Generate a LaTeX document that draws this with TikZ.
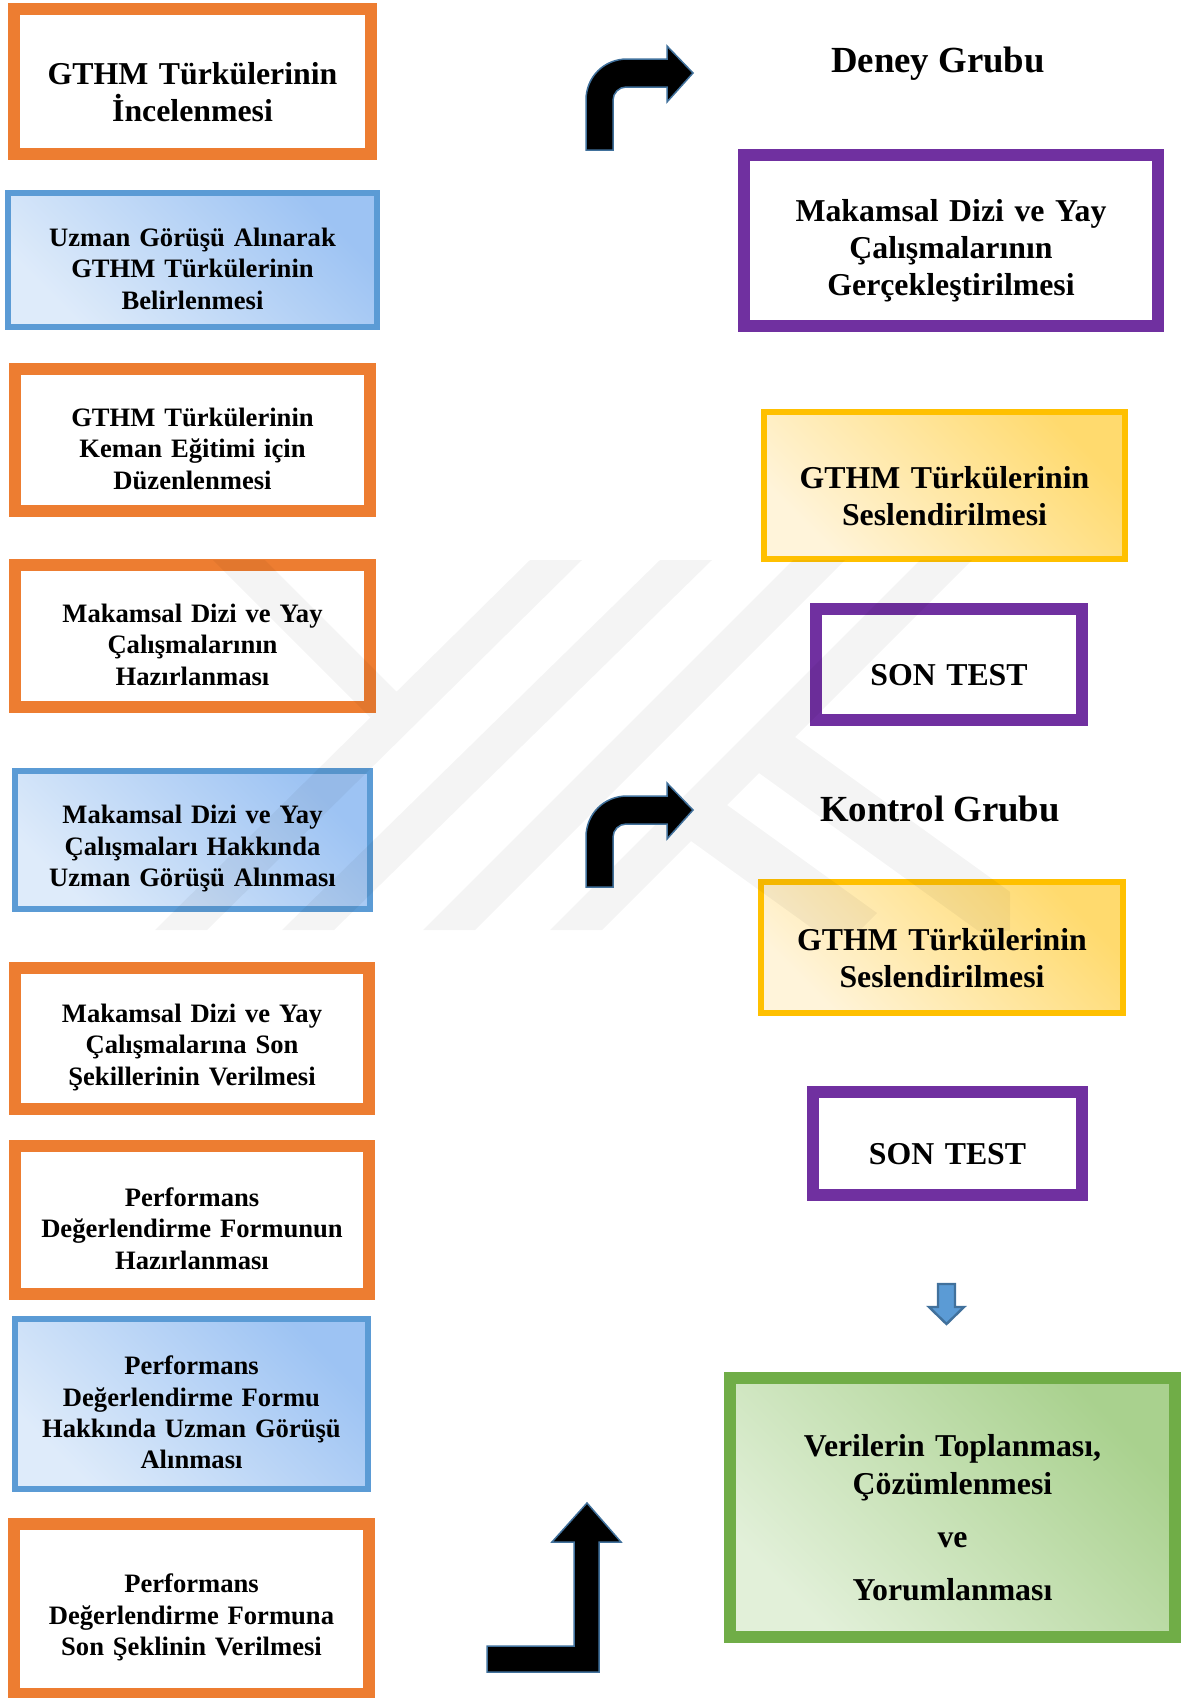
\documentclass[tikz,border=0pt]{standalone}
\usepackage{fontspec}
\setmainfont{Liberation Serif}

\definecolor{boxorange}{HTML}{ED7D31}
\definecolor{boxblue}{HTML}{5B9BD5}
\definecolor{bluetop}{HTML}{9DC3F3}
\definecolor{bluebot}{HTML}{DEEBFA}
\definecolor{boxyellow}{HTML}{FFC000}
\definecolor{yellowtop}{HTML}{FFDA6E}
\definecolor{yellowbot}{HTML}{FFF4DA}
\definecolor{boxpurple}{HTML}{7030A0}
\definecolor{boxgreen}{HTML}{70AD47}
\definecolor{greentop}{HTML}{A9D18E}
\definecolor{greenbot}{HTML}{E2F0D9}
\definecolor{arrowedge}{HTML}{41719C}

\newcommand\leftfont{\fontsize{13.3}{15.7}\selectfont\bfseries}
\newcommand\rightfont{\fontsize{15.9}{18.6}\selectfont\bfseries}
\newcommand\grpfont{\fontsize{18.4}{22}\selectfont\bfseries}

\tikzset{
  box/.style={rectangle, inner sep=0pt, align=center,
    execute at begin node={\rule{0pt}{1.35em}}},
  orangebox/.style={box, draw=boxorange, line width=6pt},
  purplebox/.style={box, draw=boxpurple, line width=6pt},
  bluebox/.style={box, draw=boxblue, line width=3pt,
    top color=bluetop, bottom color=bluebot, shading angle=-45},
  yellowbox/.style={box, draw=boxyellow, line width=3pt,
    top color=yellowtop, bottom color=yellowbot, shading angle=-45},
  greenbox/.style={box, draw=boxgreen, line width=6pt,
    top color=greentop, bottom color=greenbot, shading angle=-45},
  bigarrow/.style={fill=black, draw=arrowedge, line width=0.75pt},
}

\begin{document}
\begin{tikzpicture}[x=0.5pt,y=-0.5pt]
\useasboundingbox (0,0) rectangle (1182,1698);

% left column
\node(inc)[orangebox, minimum width=178.5pt, minimum height=72.5pt, text width=172pt, font=\rightfont] at (192.5,81.5) {GTHM Türkülerinin\\İncelenmesi};
\node(belirle)[bluebox, minimum width=184.5pt, minimum height=67pt, text width=176pt, font=\leftfont] at (192.5,260) {Uzman Görüşü Alınarak\\GTHM Türkülerinin\\Belirlenmesi};
\node(duzen)[orangebox, minimum width=177.5pt, minimum height=71pt, text width=170pt, font=\leftfont] at (192.5,440) {GTHM Türkülerinin\\Keman Eğitimi için\\Düzenlenmesi};
\node(hazir)[orangebox, minimum width=177.5pt, minimum height=71pt, text width=170pt, font=\leftfont] at (192.5,636) {Makamsal Dizi ve Yay\\Çalışmalarının\\Hazırlanması};
\node(gorus)[bluebox, minimum width=177.5pt, minimum height=69pt, text width=170pt, font=\leftfont] at (192.5,840) {Makamsal Dizi ve Yay\\Çalışmaları Hakkında\\Uzman Görüşü Alınması};
\node(sonsekil)[orangebox, minimum width=177pt, minimum height=70.5pt, text width=170pt, font=\leftfont] at (192,1038.5) {Makamsal Dizi ve Yay\\Çalışmalarına Son\\Şekillerinin Verilmesi};
\node(form)[orangebox, minimum width=177pt, minimum height=74pt, text width=170pt, font=\leftfont] at (192,1220) {Performans\\Değerlendirme Formunun\\Hazırlanması};
\node(formgorus)[bluebox, minimum width=176.5pt, minimum height=85pt, text width=170pt, font=\leftfont] at (191.5,1404) {Performans\\Değerlendirme Formu\\Hakkında Uzman Görüşü\\Alınması};
\node(formson)[orangebox, minimum width=177.5pt, minimum height=85pt, text width=170pt, font=\leftfont] at (191.5,1609) {Performans\\Değerlendirme Formuna\\Son Şeklinin Verilmesi};

% right column
\node(deney)[font=\grpfont] at (938,64) {Deney Grubu};
\node(uygula)[purplebox, minimum width=207pt, minimum height=85.5pt, text width=200pt, font=\rightfont] at (951,240.5) {Makamsal Dizi ve Yay\\Çalışmalarının\\Gerçekleştirilmesi};
\node(sesd)[yellowbox, minimum width=180.5pt, minimum height=73.5pt, text width=174pt, font=\rightfont] at (944.5,485.5) {GTHM Türkülerinin\\Seslendirilmesi};
\node(testd)[purplebox, minimum width=133pt, minimum height=55.5pt, text width=125pt, font=\rightfont] at (949,664.5) {SON TEST};
\node(kontrol)[font=\grpfont] at (940,809) {Kontrol Grubu};
\node(sesk)[yellowbox, minimum width=181pt, minimum height=65.5pt, text width=174pt, font=\rightfont] at (942,947.5) {GTHM Türkülerinin\\Seslendirilmesi};
\node(testk)[purplebox, minimum width=134.5pt, minimum height=51.5pt, text width=125pt, font=\rightfont] at (947.5,1143.5) {SON TEST};
\node(veri)[greenbox, minimum width=222.5pt, minimum height=129.5pt, text width=215pt, font=\rightfont] at (952.5,1507.5) {Verilerin Toplanması,\\Çözümlenmesi\\[8pt]ve\\[8pt]Yorumlanması};

% watermark
\begin{scope}
  \clip (100,560) rectangle (1010,930);
  \fill[black, fill opacity=0.045]
    (530,560) -- (582,560) -- (207,930) -- (155,930) -- cycle
    (660,560) -- (712,560) -- (334,930) -- (282,930) -- cycle
    (793,560) -- (845,560) -- (475,930) -- (423,930) -- cycle
    (920,560) -- (972,560) -- (602,930) -- (550,930) -- cycle
    (213,560) -- (265,560) -- (397,692) -- (370,717) -- cycle
    (795,737) -- (1045,917) -- (1009,953) -- (759,773) -- cycle
    (727,805) -- (877,913) -- (841,949) -- (691,841) -- cycle;
\end{scope}

% bent arrows
\foreach \dy in {0,737}
  \draw[bigarrow, shift={(0,\dy)}] (586,150) -- (586,100) .. controls (586,77) and (604,59) .. (627,59)
    -- (667,59) -- (667,46) -- (693,73) -- (667,102) -- (667,87) -- (626,87)
    .. controls (619,87) and (613,93) .. (613,100) -- (613,150) -- cycle;

\draw[bigarrow] (487,1646) -- (574,1646) -- (574,1542) -- (552,1542) -- (587,1503)
  -- (621,1542) -- (599,1542) -- (599,1672) -- (487,1672) -- cycle;

\draw[fill=boxblue, draw=arrowedge, line width=1.2pt] (938,1284) -- (955,1284) -- (955,1307)
  -- (964,1307) -- (946.5,1324) -- (929,1307) -- (938,1307) -- cycle;

\end{tikzpicture}
\end{document}
